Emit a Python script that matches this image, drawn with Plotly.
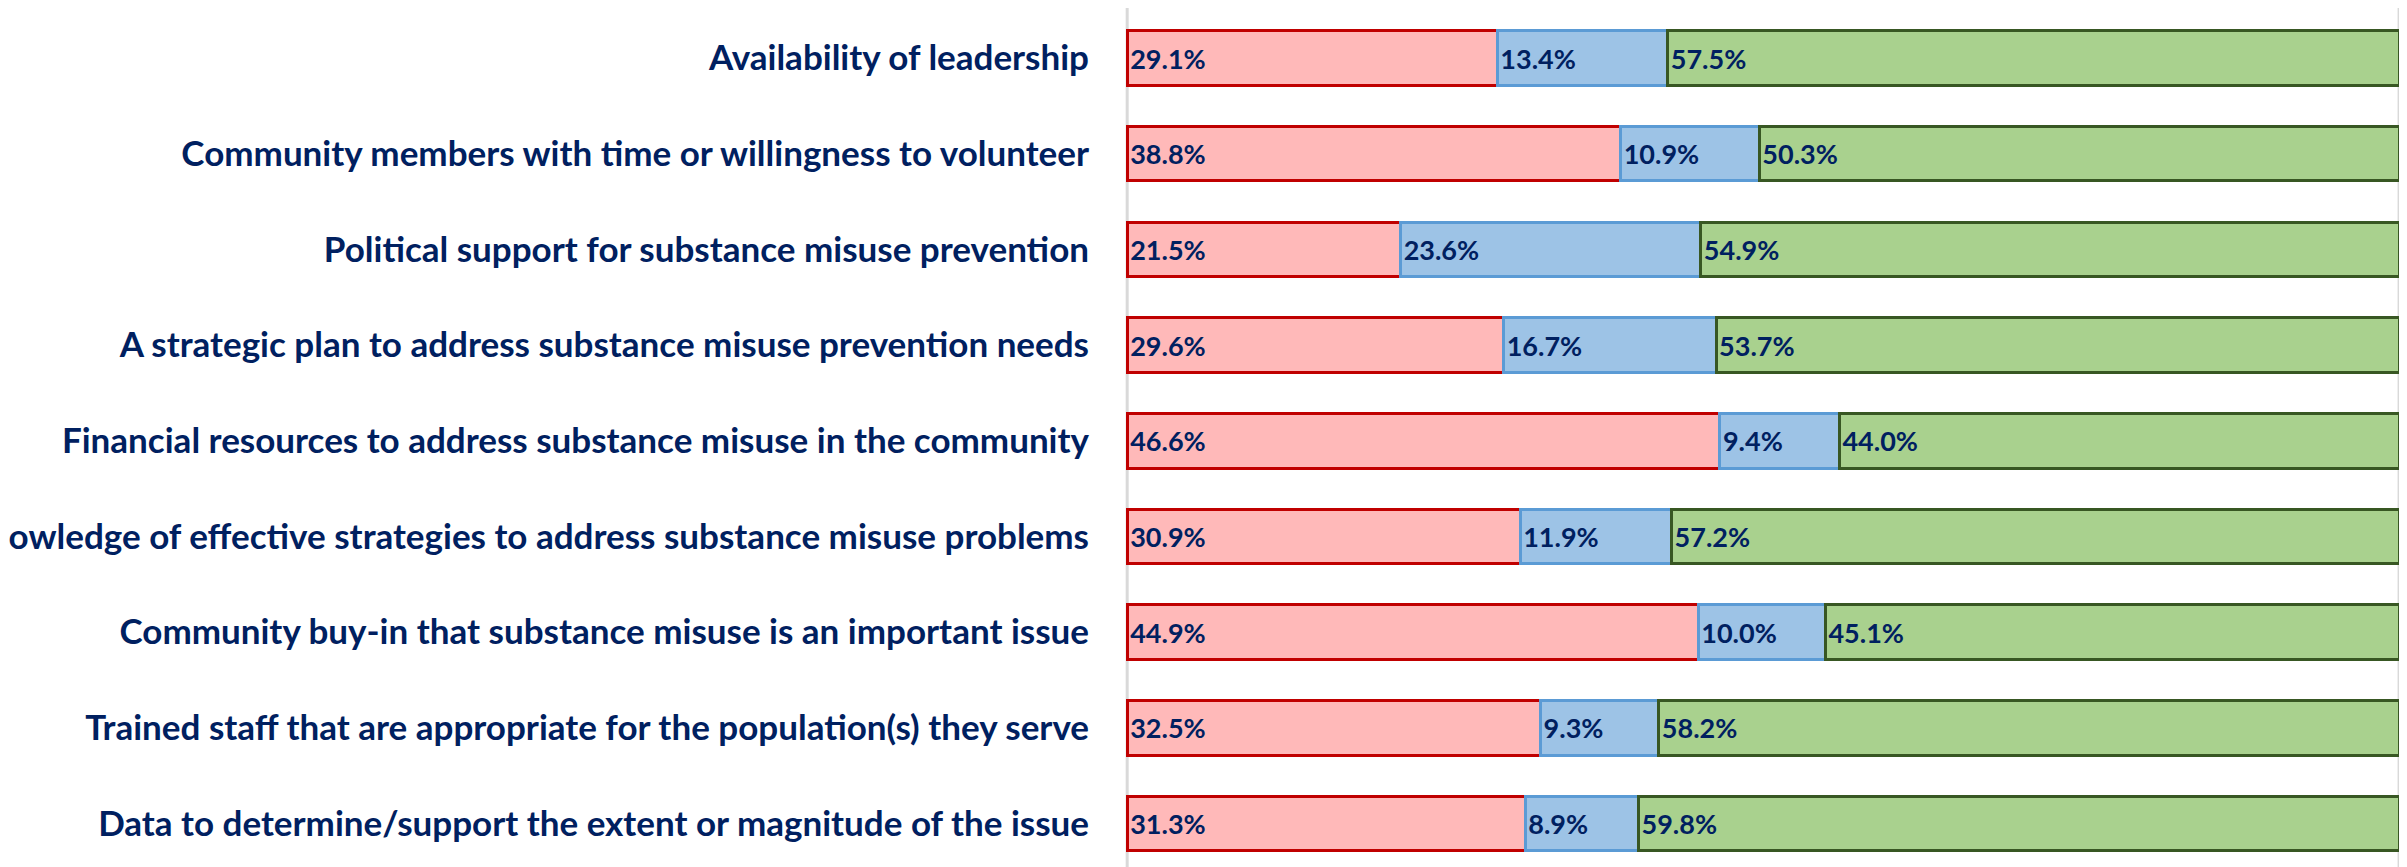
import plotly.graph_objects as go

categories = [
    "Availability of leadership",
    "Community members with time or willingness to volunteer",
    "Political support for substance misuse prevention",
    "A strategic plan to address substance misuse prevention needs",
    "Financial resources to address substance misuse in the community",
    "Knowledge of effective strategies to address substance misuse problems",
    "Community buy-in that substance misuse is an important issue",
    "Trained staff that are appropriate for the population(s) they serve",
    "Data to determine/support the extent or magnitude of the issue",
]
series_1 = [29.1, 38.8, 21.5, 29.6, 46.6, 30.9, 44.9, 32.5, 31.3]
series_2 = [13.4, 10.9, 23.6, 16.7, 9.4, 11.9, 10.0, 9.3, 8.9]
series_3 = [57.5, 50.3, 54.9, 53.7, 44.0, 57.2, 45.1, 58.2, 59.8]
grid_positions = [0, 100]

styles = [
    (series_1, "#FFB9B9", "#C00000"),
    (series_2, "#9DC3E6", "#5B9BD5"),
    (series_3, "#A9D18E", "#385723"),
]

TEXT = "#002060"
FONT = "Lato"

fig = go.Figure()
for vals, fill, line in styles:
    fig.add_trace(go.Bar(
        y=categories, x=vals, orientation="h",
        marker=dict(color=fill, line=dict(color=line, width=3)),
        text=[f"{v:.1f}%" for v in vals],
        textposition="inside", insidetextanchor="start", textangle=0,
        constraintext="none",
        insidetextfont=dict(family=FONT, size=27, color=TEXT, weight="bold"),
        width=0.57, showlegend=False, hoverinfo="skip",
    ))

for gx in grid_positions:
    fig.add_vline(x=gx, line=dict(color="#D9D9D9", width=3), layer="below")

fig.update_layout(
    barmode="stack",
    width=2399, height=859,
    margin=dict(l=1116, r=6, t=0, b=0),
    plot_bgcolor="white", paper_bgcolor="white",
    xaxis=dict(range=[-0.25, 100.15], showticklabels=False, ticks="",
               showgrid=False, zeroline=False, showline=False, fixedrange=True),
    yaxis=dict(range=[8.4546, -0.5225], showgrid=False, zeroline=False,
               showline=False, ticks="", ticklabelstandoff=34,
               tickfont=dict(family=FONT, size=35, color=TEXT, weight="bold"),
               automargin=False),
    font=dict(family=FONT),
)

fig.write_html("out.html")
